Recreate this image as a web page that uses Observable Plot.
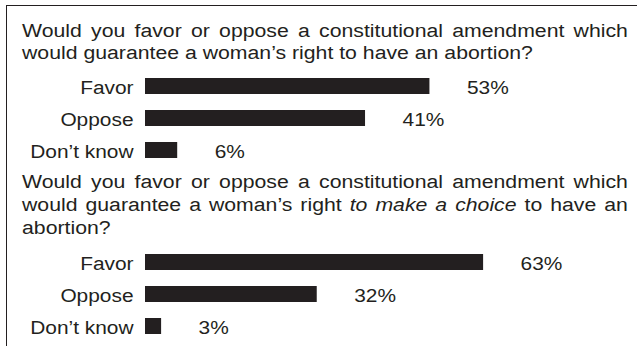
<!DOCTYPE html>
<html>
<head>
<meta charset="utf-8">
<script src="https://cdn.jsdelivr.net/npm/d3@7"></script>
<script src="https://cdn.jsdelivr.net/npm/@observablehq/plot@0.6"></script>
<style>
  html, body { margin: 0; padding: 0; background: #fff; }
  #page { position: relative; width: 637px; height: 346px; overflow: hidden; background: #fff;
          font-family: "Liberation Sans", Arial, Helvetica, sans-serif; color: #231f20; }
  #frame { position: absolute; left: 6px; top: 5px; width: 700px; height: 400px;
           border-top: 1px solid #231f20; border-left: 1px solid #231f20; }
  .q { position: absolute; left: 22px; width: 513.5px; transform: scaleX(1.18); transform-origin: 0 0;
       font-size: 18px; line-height: 22px; }
  .j { text-align: justify; text-align-last: justify; white-space: nowrap; }
  .l { text-align: left; white-space: nowrap; }
  .chart { position: absolute; left: 0; }
</style>
</head>
<body>
<div id="page">
  <div id="frame"></div>
  <div class="q" id="q1" style="top:20px"></div>
  <div class="chart" id="c1" style="top:70px"></div>
  <div class="q" id="q2" style="top:171px; line-height:23px"></div>
  <div class="chart" id="c2" style="top:246px"></div>
</div>
<script>
// Data
const categories = ["Favor", "Oppose", "Don\u2019t know"];
const q1Values = [53, 41, 6];
const q2Values = [63, 32, 3];
const question1Lines = [
  "Would you favor or oppose a constitutional amendment which",
  "would guarantee a woman\u2019s right to have an abortion?"
];
const question2Lines = [
  "Would you favor or oppose a constitutional amendment which",
  "would guarantee a woman\u2019s right <i>to make a choice</i> to have an",
  "abortion?"
];

const INK = "#231f20";
const STRETCH = 1.16;

function fillQuestion(el, lines) {
  lines.forEach((line, i) => {
    const d = document.createElement("div");
    d.className = i < lines.length - 1 ? "j" : "l";
    d.innerHTML = line;
    el.appendChild(d);
  });
}
fillQuestion(document.getElementById("q1"), question1Lines);
fillQuestion(document.getElementById("q2"), question2Lines);

function chart(values) {
  const data = categories.map((c, i) => ({category: c, value: values[i]}));
  return Plot.plot({
    width: 637,
    height: 96,
    marginTop: 0,
    marginBottom: 0,
    marginLeft: 145,
    marginRight: 9,
    x: {domain: [0, 90], axis: null},
    y: {domain: categories, axis: null, paddingInner: 0.5, paddingOuter: 0.25},
    style: {fontFamily: "'Liberation Sans', Arial, Helvetica, sans-serif", fontSize: "18px", color: INK, background: "transparent", overflow: "visible"},
    marks: [
      Plot.barX(data, {x: "value", y: "category", fill: INK}),
      Plot.text(data, {x: "value", y: "category", text: d => d.value + "%", textAnchor: "start", dx: 37, dy: 2, fill: INK, fontSize: 18}),
      Plot.text(data, {x: 0, y: "category", text: "category", textAnchor: "end", dx: -12, dy: 2, fill: INK, fontSize: 18})
    ]
  });
}

function widen(svg) {
  // widen the lettering horizontally, as in the printed original
  svg.querySelectorAll("text").forEach(t => {
    const w = t.getComputedTextLength();
    if (w > 0) {
      t.setAttribute("textLength", (w * STRETCH).toFixed(2));
      t.setAttribute("lengthAdjust", "spacingAndGlyphs");
    }
  });
}

const s1 = chart(q1Values), s2 = chart(q2Values);
document.getElementById("c1").appendChild(s1);
document.getElementById("c2").appendChild(s2);
widen(s1); widen(s2);
</script>
</body>
</html>
